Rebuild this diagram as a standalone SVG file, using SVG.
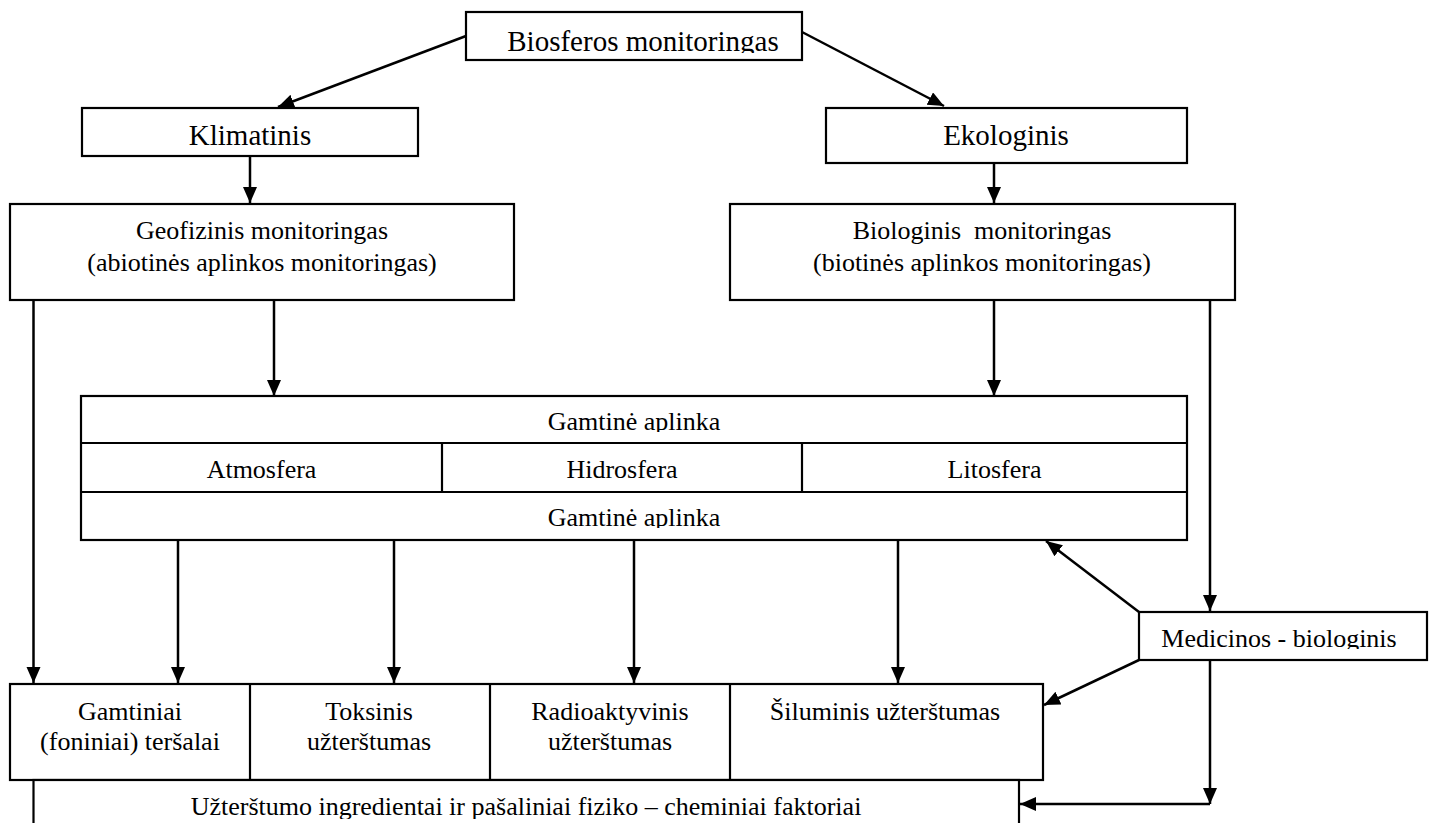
<svg xmlns="http://www.w3.org/2000/svg" width="1434" height="823" viewBox="0 0 1434 823">
  <style>
    .box { fill: #ffffff; stroke: #000000; stroke-width: 2.2; }
    .div { stroke: #000000; stroke-width: 2.2; fill: none; }
    .con { stroke: #000000; stroke-width: 2.5; fill: none; }
    .arr { marker-end: url(#head); }
    text { font-family: "Liberation Serif", "Times New Roman", serif; fill: #000000; text-anchor: middle; }
    .h { font-size: 29px; }
    .b { font-size: 26px; }
  </style>
  <defs>
    <marker id="head" markerUnits="userSpaceOnUse" markerWidth="18" markerHeight="16" refX="16" refY="7" orient="auto">
      <path d="M0,0 L16,7 L0,14 Z" fill="#000000"/>
    </marker>
    <!-- text frames cut their last line just below the baseline -->
    <clipPath id="clipTop"><rect x="466" y="12" width="336" height="41"/></clipPath>
    <clipPath id="clipRow1"><rect x="81" y="396" width="1106" height="36"/></clipPath>
    <clipPath id="clipRow3"><rect x="81" y="492" width="1106" height="36"/></clipPath>
    <clipPath id="clipMed"><rect x="1139" y="612" width="288" height="37"/></clipPath>
    <clipPath id="clipBottom"><rect x="33" y="780" width="986" height="39"/></clipPath>
  </defs>

  <!-- connectors -->
  <g id="connectors">
    <line class="con arr" x1="466" y1="36" x2="278" y2="107"/>
    <line class="con arr" x1="802" y1="32" x2="944" y2="106"/>
    <line class="con arr" x1="250" y1="156" x2="250" y2="203"/>
    <line class="con arr" x1="994" y1="155" x2="994" y2="203"/>
    <line class="con arr" x1="33.5" y1="300" x2="33.5" y2="683"/>
    <line class="con arr" x1="274" y1="300" x2="274" y2="396"/>
    <line class="con arr" x1="994" y1="300" x2="994" y2="396"/>
    <line class="con arr" x1="1210" y1="300" x2="1210" y2="611"/>
    <line class="con arr" x1="178" y1="540" x2="178" y2="683"/>
    <line class="con arr" x1="394" y1="540" x2="394" y2="683"/>
    <line class="con arr" x1="634" y1="540" x2="634" y2="683"/>
    <line class="con arr" x1="898" y1="540" x2="898" y2="683"/>
    <line class="con arr" x1="1139" y1="612" x2="1046" y2="541"/>
    <line class="con arr" x1="1139" y1="660" x2="1044" y2="705"/>
    <line class="con arr" x1="1210" y1="660" x2="1210" y2="804"/>
    <line class="con arr" x1="1210" y1="804" x2="1020" y2="804"/>
  </g>

  <g id="biosferos">
    <rect class="box" x="466" y="12" width="336" height="48"/>
    <text class="h" x="643" y="51" clip-path="url(#clipTop)">Biosferos monitoringas</text>
  </g>

  <g id="klimatinis">
    <rect class="box" x="82" y="108" width="336" height="48"/>
    <text class="h" x="250" y="145">Klimatinis</text>
  </g>

  <g id="ekologinis">
    <rect class="box" x="826" y="108" width="361" height="55"/>
    <text class="h" x="1006" y="145">Ekologinis</text>
  </g>

  <g id="geofizinis">
    <rect class="box" x="10" y="204" width="504" height="96"/>
    <text class="b" x="262" y="239">Geofizinis monitoringas</text>
    <text class="b" x="262" y="271">(abiotinės aplinkos monitoringas)</text>
  </g>

  <g id="biologinis">
    <rect class="box" x="730" y="204" width="505" height="96"/>
    <text class="b" x="982" y="239" xml:space="preserve">Biologinis  monitoringas</text>
    <text class="b" x="982" y="271">(biotinės aplinkos monitoringas)</text>
  </g>

  <g id="gamtine-aplinka">
    <rect class="box" x="81" y="396" width="1106" height="144"/>
    <line class="div" x1="81" y1="443" x2="1187" y2="443"/>
    <line class="div" x1="81" y1="492" x2="1187" y2="492"/>
    <line class="div" x1="442" y1="443" x2="442" y2="492"/>
    <line class="div" x1="802" y1="443" x2="802" y2="492"/>
    <text class="b" x="634" y="430" clip-path="url(#clipRow1)">Gamtinė aplinka</text>
    <text class="b" x="261.5" y="478">Atmosfera</text>
    <text class="b" x="622" y="478">Hidrosfera</text>
    <text class="b" x="994.5" y="478">Litosfera</text>
    <text class="b" x="634" y="526" clip-path="url(#clipRow3)">Gamtinė aplinka</text>
  </g>

  <g id="medicinos">
    <rect class="box" x="1139" y="612" width="288" height="48"/>
    <text class="b" x="1279" y="647" clip-path="url(#clipMed)">Medicinos - biologinis</text>
  </g>

  <g id="uzterstumas">
    <rect class="box" x="10" y="684" width="1033" height="96"/>
    <line class="div" x1="250" y1="684" x2="250" y2="780"/>
    <line class="div" x1="490" y1="684" x2="490" y2="780"/>
    <line class="div" x1="730" y1="684" x2="730" y2="780"/>
    <text class="b" x="130" y="720">Gamtiniai</text>
    <text class="b" x="130" y="750">(foniniai) teršalai</text>
    <text class="b" x="369" y="720">Toksinis</text>
    <text class="b" x="369" y="750">užterštumas</text>
    <text class="b" x="610" y="720">Radioaktyvinis</text>
    <text class="b" x="610" y="750">užterštumas</text>
    <text class="b" x="885" y="720">Šiluminis užterštumas</text>
  </g>

  <g id="ingredientai">
    <rect class="box" x="33.5" y="780" width="985.5" height="60"/>
    <text class="b" x="526" y="815" clip-path="url(#clipBottom)">Užterštumo ingredientai ir pašaliniai fiziko – cheminiai faktoriai</text>
  </g>
</svg>
